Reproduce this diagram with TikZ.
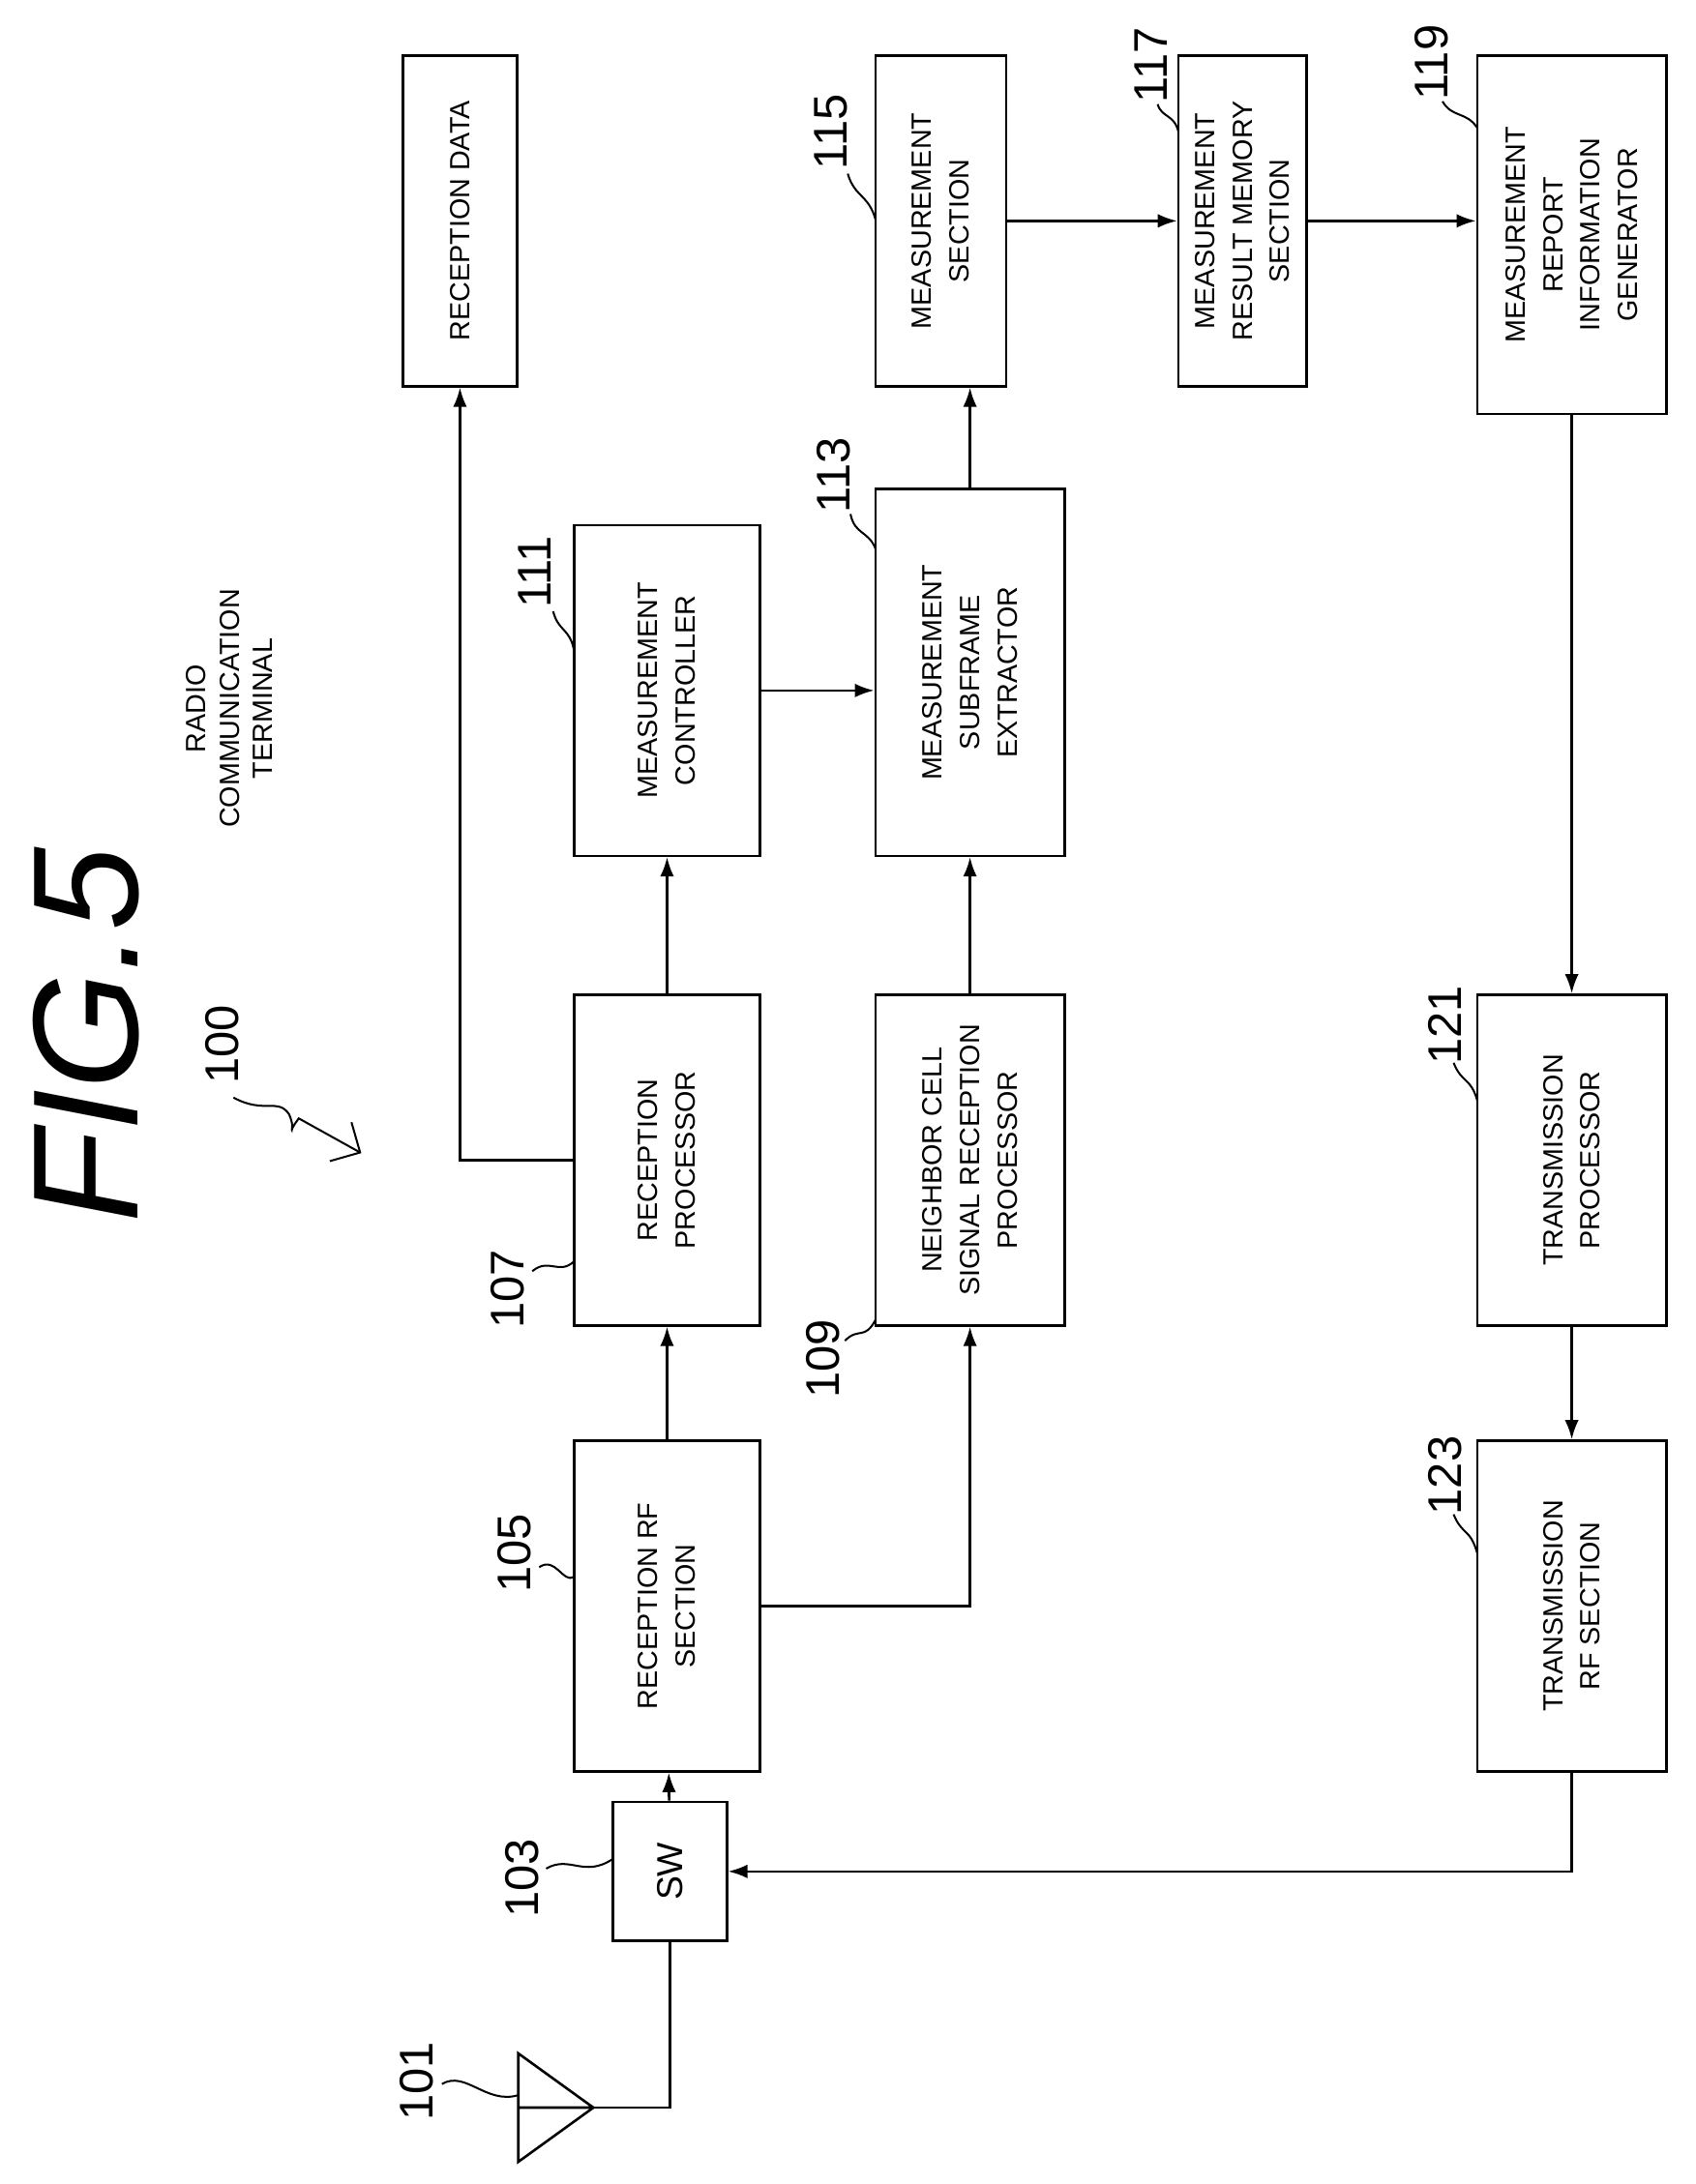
\documentclass[tikz,border=0pt]{standalone}
\usepackage{fontspec}
\setmainfont{Liberation Sans}
\usetikzlibrary{arrows.meta}
\tikzset{
  blk/.style={draw, line width=0.9pt, rotate=90, align=center, inner sep=1pt,
    font=\fontsize{10}{13.5}\selectfont},
  num/.style={rotate=90, font=\fontsize{17}{17}\selectfont},
  lead/.style={line width=0.7pt},
  flow/.style={line width=0.9pt, -{Latex[length=7pt,width=5pt]}},
}
\begin{document}
\begin{tikzpicture}[x=0.5pt,y=-0.5pt]
\useasboundingbox (0,0) rectangle (1220,1572);

% Title
\node[rotate=90, font=\fontsize{54}{54}\selectfont\itshape] (fig) at (62,745) {FIG.5};
\node[rotate=90, align=center, font=\fontsize{10}{12}\selectfont] (term) at (165,510) {RADIO\\COMMUNICATION\\TERMINAL};
\node[num] (n100) at (160,752) {100};
\draw[lead, -{Straight Barb[length=8pt]}] (168,790) .. controls (190,802) and (200,790) .. (208,802) .. controls (214,815) and (205,818) .. (215,805) -- (260,830);

% Blocks
\node[blk, minimum width=119pt, minimum height=41pt] (rd) at (331,159) {RECEPTION DATA};
\node[blk, minimum width=119pt, minimum height=47pt] (ms) at (677,159) {MEASUREMENT\\SECTION};
\node[blk, minimum width=119pt, minimum height=46pt] (mm) at (894,159) {MEASUREMENT\\RESULT MEMORY\\SECTION};
\node[blk, minimum width=129pt, minimum height=68pt] (rep) at (1131,169) {MEASUREMENT\\REPORT\\INFORMATION\\GENERATOR};
\node[blk, minimum width=119pt, minimum height=67pt] (mc) at (480,497) {MEASUREMENT\\CONTROLLER};
\node[blk, minimum width=132pt, minimum height=68pt] (ext) at (698,484) {MEASUREMENT\\SUBFRAME\\EXTRACTOR};
\node[blk, minimum width=119pt, minimum height=67pt] (rp) at (480,835) {RECEPTION\\PROCESSOR};
\node[blk, minimum width=119pt, minimum height=68pt] (nc) at (698,835) {NEIGHBOR CELL\\SIGNAL RECEPTION\\PROCESSOR};
\node[blk, minimum width=119pt, minimum height=68pt] (tp) at (1131,835) {TRANSMISSION\\PROCESSOR};
\node[blk, minimum width=119pt, minimum height=67pt] (rf) at (480,1156) {RECEPTION RF\\SECTION};
\node[blk, minimum width=119pt, minimum height=68pt] (tr) at (1131,1156) {TRANSMISSION\\RF SECTION};
\node[blk, minimum width=50pt, minimum height=41pt, font=\fontsize{13}{13}\selectfont] (sw) at (482,1347) {SW};

% Antenna
\coordinate (ant) at (427,1517);
\draw[line width=0.9pt] (373,1478) -- (ant) -- (373,1556) -- cycle (373,1517) -- (ant);
\draw[line width=0.9pt] (ant) -| (sw);

% Connectors
\draw[flow] (sw) -- (rf);
\draw[flow] (rf) -- (rp);
\draw[flow] (rf) -| (nc);
\draw[flow] (rp) -- (mc);
\draw[flow] (rp) -| (rd);
\draw[flow] (nc) -- (ext);
\draw[flow] (mc) -- (mc -| ext.north);
\draw[flow] (ext) -- (ext |- ms.west);
\draw[flow] (ms) -- (mm);
\draw[flow] (mm) -- (mm -| rep.north);
\draw[flow] (rep) -- (tp);
\draw[flow] (tp) -- (tr);
\draw[flow] (tr) |- (sw);

% Reference numerals
\node[num] (n101) at (300,1498) {101};
\draw[lead] (318,1500) .. controls (335,1490) and (350,1515) .. (373,1508);
\node[num] (n103) at (376,1352) {103};
\draw[lead] (393,1345) .. controls (410,1335) and (420,1352) .. (441,1338);
\node[num] (n105) at (370,1118) {105};
\draw[lead] (388,1128) .. controls (400,1120) and (405,1140) .. (413,1135);
\node[num] (n107) at (365,928) {107};
\draw[lead] (383,915) .. controls (395,905) and (402,918) .. (413,908);
\node[num] (n109) at (592,978) {109};
\draw[lead] (608,965) .. controls (618,955) and (622,965) .. (630,950);
\node[num] (n111) at (385,412) {111};
\draw[lead] (398,440) .. controls (402,455) and (410,452) .. (413,468);
\node[num] (n113) at (600,342) {113};
\draw[lead] (612,370) .. controls (615,385) and (625,382) .. (630,395);
\node[num] (n115) at (598,95) {115};
\draw[lead] (610,125) .. controls (615,142) and (625,140) .. (630,158);
\node[num] (n117) at (828,47) {117};
\draw[lead] (833,75) .. controls (836,85) and (845,82) .. (848,95);
\node[num] (n119) at (1030,45) {119};
\draw[lead] (1038,73) .. controls (1045,85) and (1055,80) .. (1063,92);
\node[num] (n121) at (1040,738) {121};
\draw[lead] (1046,765) .. controls (1052,780) and (1058,775) .. (1063,792);
\node[num] (n123) at (1040,1062) {123};
\draw[lead] (1046,1090) .. controls (1052,1105) and (1058,1100) .. (1063,1118);
\end{tikzpicture}
\end{document}
